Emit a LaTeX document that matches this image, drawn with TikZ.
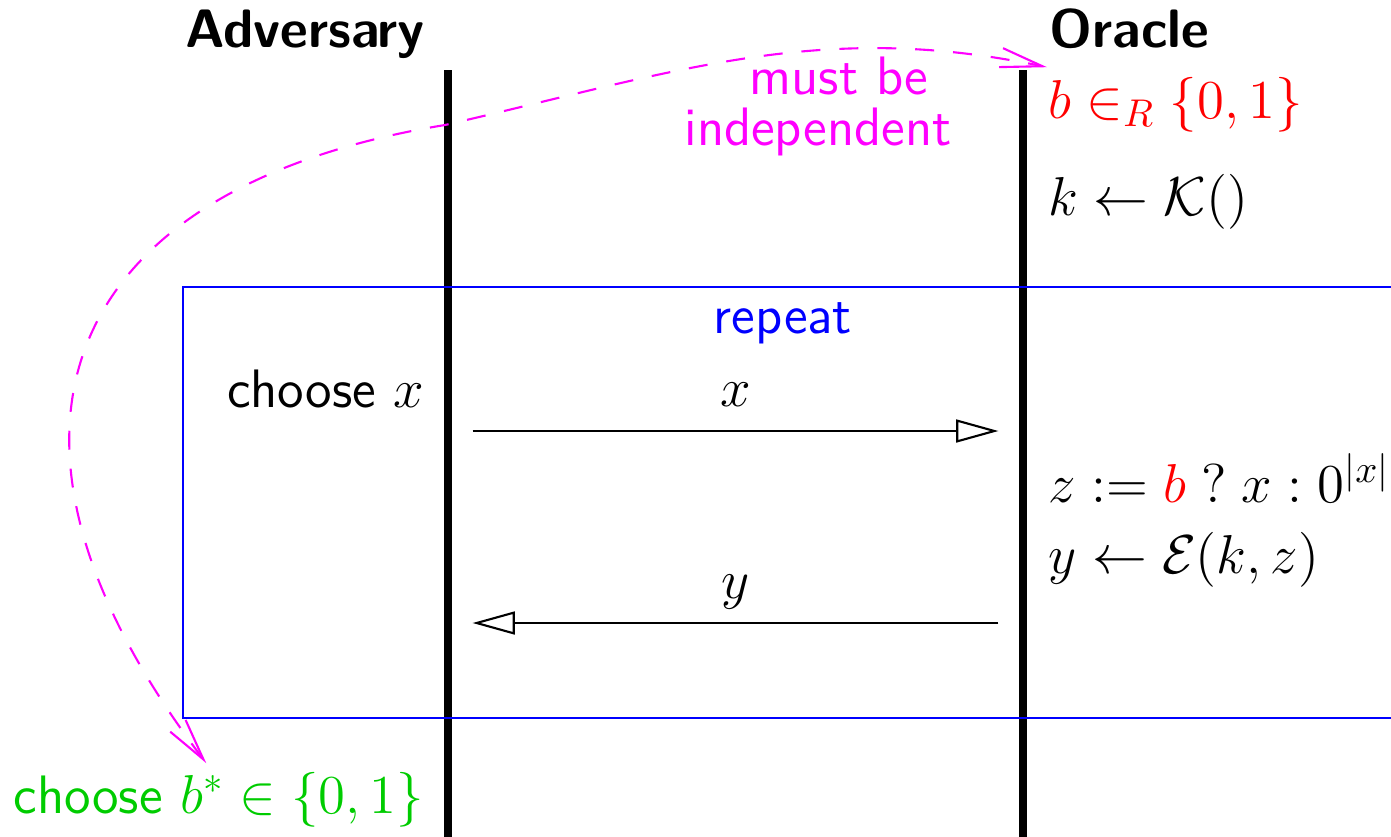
\RequirePackage{fix-cm}
\documentclass[tikz,border=0pt]{standalone}
\usepackage{amsmath, amssymb}
\usepackage{tikz}
\usetikzlibrary{arrows.meta, positioning, calc}
\usepackage{xcolor}
\definecolor{loopblue}{HTML}{0000FF}
\definecolor{pink}{HTML}{FF00FF}
\definecolor{bitred}{HTML}{FF0000}
\definecolor{guessgreen}{HTML}{00CC00}
\newcommand{\picsize}{\fontsize{15.4}{18}\selectfont}
\DeclareMathSizes{15.4}{15.6}{11}{8.5}

\tikzset{
  txt/.style={inner sep=0pt, font=\picsize\sffamily},
  party/.style={txt, font=\picsize\sffamily\bfseries},
  lifeline/.style={line width=2.4pt},
  msg/.style={line width=0.6pt, -{Triangle[open, length=12pt, width=6.5pt]}, shorten <=7pt, shorten >=7pt},
  indep/.style={pink, line width=0.6pt, dash pattern=on 5.4pt off 5.4pt, {Straight Barb[length=12pt, width=5.5pt]}-{Straight Barb[length=12pt, width=5.5pt]}}
}

\begin{document}
\begin{tikzpicture}
  \useasboundingbox (0,0) rectangle (13.91,8.36);

  % 1. Parties and lifelines
  \node[party, anchor=base] (advname) at (3.05,7.89) {Adversary};
  \node[party, anchor=base west] (oraname) at (10.49,7.89) {Oracle};
  \coordinate (advtop) at (4.48,7.66);
  \coordinate (advbot) at (4.48,-0.1);
  \coordinate (oratop) at (10.23,7.66);
  \coordinate (orabot) at (10.23,-0.1);
  \draw[lifeline] (advtop) -- (advbot);
  \draw[lifeline] (oratop) -- (orabot);

  % 2. Oracle setup
  \node[txt, text=bitred, anchor=base west] (bsel) at (10.48,7.18) {$b \in_R \{0,1\}$};
  \node[txt, anchor=base west] (keygen) at (10.48,6.21) {$k \leftarrow \mathcal{K}()$};

  % 3. Repeated queries
  \draw[loopblue, line width=0.6pt] (1.83,1.18) rectangle (14.3,5.49);
  \node[txt, text=loopblue, anchor=base] (rep) at (7.83,5.03) {repeat};
  \node[txt, anchor=base east] (choosex) at (4.25,4.29) {choose $x$};
  \coordinate (advq) at (4.48,4.05);
  \coordinate (oraq) at (10.23,4.05);
  \draw[msg] (advq) -- (oraq) node[midway, txt, anchor=base, yshift=7pt] (xlab) {$x$};
  \node[txt, anchor=base west] (zdef) at (10.48,3.34) {$z := {\color{bitred}b} \mathrel{?} x : 0^{|x|}$};
  \node[txt, anchor=base west] (enc) at (10.48,2.63) {$y \leftarrow \mathcal{E}(k,z)$};
  \coordinate (orar) at (10.23,2.13);
  \coordinate (advr) at (4.48,2.13);
  \draw[msg] (orar) -- (advr) node[midway, txt, anchor=base, yshift=7pt] (ylab) {$y$};

  % 4. Guess and independence
  \node[txt, text=guessgreen, anchor=base west] (bstar) at (0.13,0.23) {choose $b^* \in \{0,1\}$};
  \coordinate (bend) at (4.45,7.11);
  \draw[indep] ([xshift=-0.125cm, yshift=0.08cm]bstar.north)
    .. controls (-0.5,4.1) and (0.7,6.5) .. (bend)
    .. controls (6.79,7.65) and (8.2,8.16) .. ([xshift=-0.01cm, yshift=0.09cm]bsel.north west);
  \node[txt, text=pink, align=center, anchor=north, font=\sffamily\fontsize{15.4}{14.6}\selectfont] (indeptxt) at (8.18,7.80) {\hspace*{12pt}must be\\independent};
\end{tikzpicture}
\end{document}
